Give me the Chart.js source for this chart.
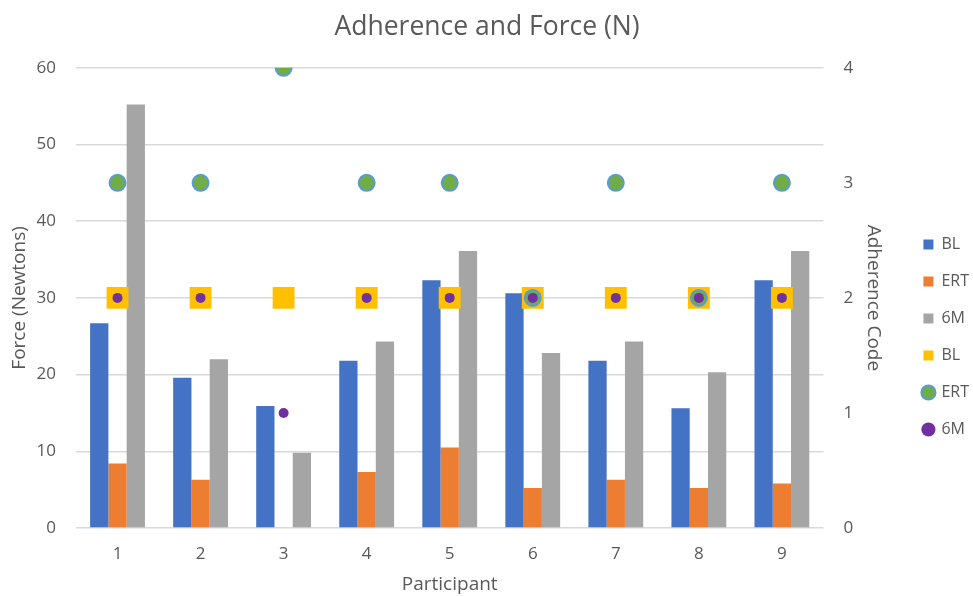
<!DOCTYPE html>
<html lang="en">
<head>
    <meta charset="UTF-8">
    <title>Adherence and Force (N)</title>
    <script src="https://cdn.jsdelivr.net/npm/chart.js"></script>
    <style>
        body {
            margin: 0;
            background-color: #ffffff;
        }

        #wrap {
            width: 973px;
            height: 596px;
        }
    </style>
</head>
<body>

    <div id="wrap"><canvas id="forceChart" width="973" height="596"></canvas></div>

    <script>
        // Participants on the x axis
        var participants = ['1', '2', '3', '4', '5', '6', '7', '8', '9'];

        // Force (N), bars on the left axis
        var forceBL = [26.7, 19.6, 15.9, 21.8, 32.3, 30.6, 21.8, 15.6, 32.3];
        var forceERT = [8.4, 6.3, null, 7.3, 10.5, 5.2, 6.3, 5.2, 5.8];
        var force6M = [55.2, 22.0, 9.8, 24.3, 36.1, 22.8, 24.3, 20.3, 36.1];

        // Adherence code, markers on the right axis
        var adhBL = [2, 2, 2, 2, 2, 2, 2, 2, 2];
        var adhERT = [3, 3, 4, 3, 3, 2, 3, 2, 3];
        var adh6M = [2, 2, 1, 2, 2, 2, 2, 2, 2];

        var leftTicks = [0, 10, 20, 30, 40, 50, 60];
        var rightTicks = [0, 1, 2, 3, 4];

        var textColor = '#595959';
        var fontFamily = '"Open Sans", "Noto Sans", sans-serif';

        Chart.defaults.font.family = fontFamily;
        Chart.defaults.color = textColor;

        // nudge the legend down/right so it sits like the original
        var legendShift = {
            id: 'legendShift',
            afterLayout: function (chart) {
                var lg = chart.legend;
                if (!lg) return;
                lg.left += 11; lg.right += 11;
                lg.top += 38; lg.bottom += 38;
            }
        };

        var ctx = document.getElementById('forceChart').getContext('2d');
        var forceChart = new Chart(ctx, {
            type: 'bar',
            data: {
                labels: participants,
                datasets: [
                    { label: 'BL', data: forceBL, backgroundColor: '#4472c4', yAxisID: 'y', order: 10 },
                    { label: 'ERT', data: forceERT, backgroundColor: '#ed7d31', yAxisID: 'y', order: 11 },
                    { label: '6M', data: force6M, backgroundColor: '#a5a5a5', yAxisID: 'y', order: 12 },
                    {
                        type: 'line', label: 'BL', data: adhBL, yAxisID: 'y1', order: 3,
                        showLine: false, pointStyle: 'rect', pointRadius: 15.5,
                        backgroundColor: '#ffc000', borderColor: '#ffc000', borderWidth: 0
                    },
                    {
                        type: 'line', label: 'ERT', data: adhERT, yAxisID: 'y1', order: 2,
                        showLine: false, pointStyle: 'circle', pointRadius: 8,
                        backgroundColor: '#70ad47', borderColor: '#5b9bd5', borderWidth: 2
                    },
                    {
                        type: 'line', label: '6M', data: adh6M, yAxisID: 'y1', order: 1,
                        showLine: false, pointStyle: 'circle', pointRadius: 5,
                        backgroundColor: '#7030a0', borderColor: '#7030a0', borderWidth: 0
                    }
                ]
            },
            plugins: [legendShift],
            options: {
                responsive: false,
                animation: false,
                layout: { padding: { top: 2, right: 5, bottom: 0, left: 6 } },
                datasets: {
                    bar: { categoryPercentage: 0.66, barPercentage: 1.0 }
                },
                plugins: {
                    title: {
                        display: true,
                        text: 'Adherence and Force (N)',
                        color: textColor,
                        font: { size: 26.5, weight: 'normal' },
                        padding: { top: 10, bottom: 24 }
                    },
                    legend: {
                        position: 'right',
                        labels: {
                            boxWidth: 10,
                            boxHeight: 10,
                            padding: 21,
                            color: textColor,
                            font: { size: 16 },
                            usePointStyle: true,
                            sort: function (a, b) { return a.datasetIndex - b.datasetIndex; },
                            generateLabels: function (chart) {
                                var items = Chart.defaults.plugins.legend.labels.generateLabels(chart);
                                items.forEach(function (it) {
                                    var ds = chart.data.datasets[it.datasetIndex];
                                    if (ds.type === 'line') {
                                        it.pointStyle = ds.pointStyle;
                                        it.fillStyle = ds.backgroundColor;
                                        it.strokeStyle = ds.borderColor;
                                        it.lineWidth = ds.borderWidth;
                                    } else {
                                        it.pointStyle = 'rect';
                                        it.lineWidth = 0;
                                    }
                                });
                                return items;
                            }
                        }
                    },
                    tooltip: { enabled: false }
                },
                scales: {
                    x: {
                        grid: { display: false },
                        border: { display: false },
                        ticks: { color: textColor, font: { size: 17 }, padding: 8 },
                        title: {
                            display: true, text: 'Participant', color: textColor,
                            font: { size: 19 }, padding: { top: 6, bottom: 0 }
                        },
                        afterFit: function (axis) { axis.height = 68; }
                    },
                    y: {
                        position: 'left',
                        min: 0, max: 60,
                        afterBuildTicks: function (axis) {
                            axis.ticks = leftTicks.map(function (v) { return { value: v }; });
                        },
                        grid: { color: '#d9d9d9', lineWidth: 1.5, drawTicks: false },
                        border: { display: false },
                        ticks: { color: textColor, font: { size: 17 }, padding: 20 },
                        title: {
                            display: true, text: 'Force (Newtons)', color: textColor,
                            font: { size: 19 }, padding: { top: 2, bottom: 0 }
                        },
                        afterFit: function (axis) { axis.width = 70; }
                    },
                    y1: {
                        position: 'right',
                        min: 0, max: 4,
                        afterBuildTicks: function (axis) {
                            axis.ticks = rightTicks.map(function (v) { return { value: v }; });
                        },
                        grid: { display: false, drawTicks: false },
                        border: { display: false },
                        ticks: { color: textColor, font: { size: 17 }, padding: 20 },
                        title: {
                            display: true, text: 'Adherence Code', color: textColor,
                            font: { size: 19 }, padding: { top: 7, bottom: 0 }
                        },
                        afterFit: function (axis) { axis.width = 68; }
                    }
                }
            }
        });
    </script>

</body>
</html>
